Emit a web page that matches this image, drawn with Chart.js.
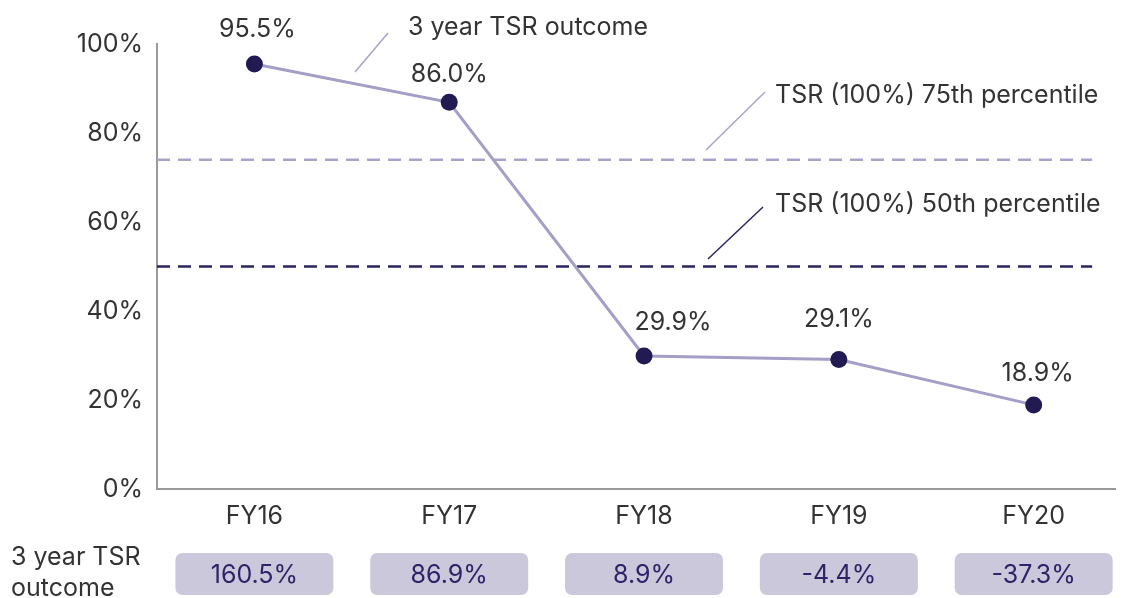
<!DOCTYPE html>
<html><head><meta charset="utf-8">
<script src="https://cdn.jsdelivr.net/npm/chart.js@4/dist/chart.umd.min.js"></script>
<style>html,body{margin:0;padding:0;background:#fff;overflow:hidden}#w{width:1124px;height:598px}canvas{display:block}</style>
</head><body><div id="w"><canvas id="c" width="1124" height="598"></canvas></div>
<script>
const categories = ['FY16','FY17','FY18','FY19','FY20'];
const tsrValues = [95.5, 86.9, 29.9, 29.1, 18.9];
const tsrLabels = ['95.5%','86.0%','29.9%','29.1%','18.9%'];
const outcomeLabels = ['160.5%','86.9%','8.9%','-4.4%','-37.3%'];
const p75 = 74;
const p50 = 50;
const yTicks = [0,20,40,60,80,100];

const FONT = 'Inter, "Liberation Sans", sans-serif';
const FS = 25;
const labelOffsets = [[3,-35],[0,-28],[29,-33],[0,-40],[4,-31]];

const overlay = {
  id:'overlay',
  afterDatasetsDraw(chart){
    const ctx = chart.ctx, x = chart.scales.x, y = chart.scales.y;
    ctx.save();
    ctx.font = FS + 'px ' + FONT;
    ctx.fillStyle = '#333333';
    ctx.textAlign = 'center';
    ctx.textBaseline = 'middle';
    tsrLabels.forEach((t,i)=>{
      const o = labelOffsets[i];
      ctx.fillText(t, x.getPixelForValue(i)+o[0], y.getPixelForValue(tsrValues[i])+o[1]);
    });
    const ann = [
      {text:'3 year TSR outcome', tx:408, ty:27, from:[355,72], to:[388,33], col:'#a8a3c8'},
      {text:'TSR (100%) 75th percentile', tx:775, ty:95, from:[706,150], to:[765,92], col:'#a8a3c8'},
      {text:'TSR (100%) 50th percentile', tx:775, ty:204, from:[708,259], to:[763,207], col:'#2a2460'}
    ];
    ann.forEach(a=>{
      ctx.strokeStyle = a.col; ctx.lineWidth = 1.5;
      ctx.beginPath(); ctx.moveTo(a.from[0],a.from[1]); ctx.lineTo(a.to[0],a.to[1]); ctx.stroke();
      ctx.fillStyle = '#333333'; ctx.textAlign = 'left';
      ctx.fillText(a.text, a.tx, a.ty);
    });
    ctx.textAlign = 'left';
    ctx.fillStyle = '#333333';
    ctx.fillText('3 year TSR', 11, 557);
    ctx.fillText('outcome', 11, 588);
    outcomeLabels.forEach((t,i)=>{
      const cx = x.getPixelForValue(i);
      const w = 158, h = 42, top = 553;
      ctx.fillStyle = '#ccc8dc';
      ctx.beginPath();
      ctx.roundRect(cx - w/2, top, w, h, 7);
      ctx.fill();
      ctx.fillStyle = '#2c2466';
      ctx.textAlign = 'center';
      ctx.fillText(t, cx, top + h/2 + 1);
    });
    ctx.restore();
  }
};

new Chart(document.getElementById('c'), {
  type:'line',
  data:{
    datasets:[
      {data:[{x:-0.5,y:p75},{x:4.3,y:p75}], borderColor:'#a8a3c8', borderWidth:2.4, borderDash:[13,8], pointRadius:0, order:3},
      {data:[{x:-0.5,y:p50},{x:4.3,y:p50}], borderColor:'#2a2460', borderWidth:2.4, borderDash:[13,8], pointRadius:0, order:2},
      {data:tsrValues.map((v,i)=>({x:i,y:v})), borderColor:'#a39fc6', borderWidth:3, pointRadius:8.5, pointHoverRadius:8.5,
       pointBackgroundColor:'#221a52', pointBorderColor:'#221a52', pointBorderWidth:0, order:1}
    ]
  },
  options:{
    responsive:false, animation:false,
    layout:{padding:{top:44,right:0,left:0,bottom:0}},
    plugins:{legend:{display:false}, tooltip:{enabled:false}},
    scales:{
      x:{type:'linear', min:-0.5, max:4.42,
        afterBuildTicks(s){ s.ticks = categories.map((c,i)=>({value:i})); },
        afterFit(s){ s.height = 109; },
        grid:{display:false, drawTicks:false},
        border:{display:true, color:'#9a9a9a', width:2},
        ticks:{callback:(v)=>categories[v], padding:12, color:'#333333', font:{family:FONT,size:FS}, maxRotation:0, autoSkip:false}
      },
      y:{min:0, max:100,
        afterBuildTicks(s){ s.ticks = yTicks.map(v=>({value:v})); },
        afterFit(s){ s.width = 157; },
        grid:{display:false, drawTicks:false},
        border:{display:true, color:'#9a9a9a', width:2},
        ticks:{callback:(v)=>v+'%', padding:14, color:'#333333', font:{family:FONT,size:FS}}
      }
    }
  },
  plugins:[overlay]
});
</script></body></html>
